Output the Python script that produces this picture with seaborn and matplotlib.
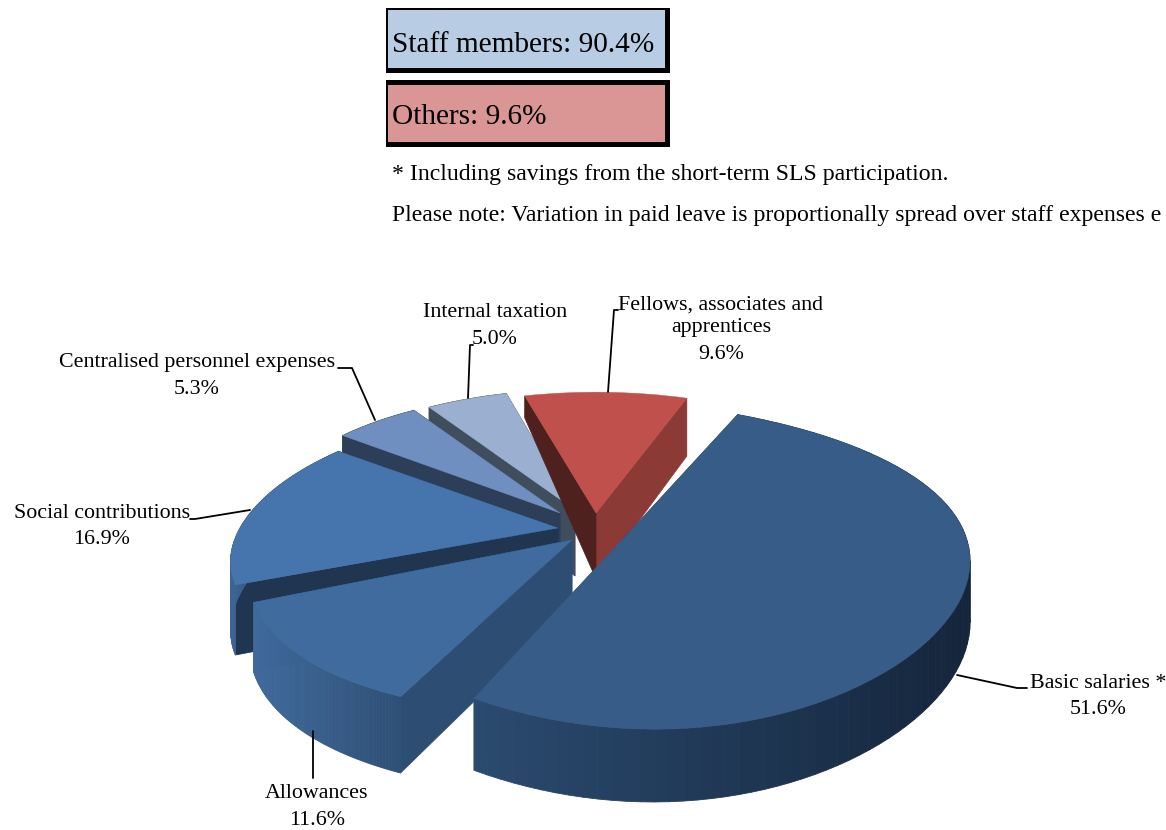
import numpy as np
import matplotlib
matplotlib.use('Agg')
import matplotlib.pyplot as plt
from matplotlib.patches import Rectangle
from matplotlib.transforms import Transform
import seaborn as sns

# ----------------------
# Data
categories = ['Basic salaries *', 'Allowances', 'Social contributions',
              'Centralised personnel expenses', 'Internal taxation',
              'Fellows, associates and\napprentices']
shares = [51.6, 11.6, 16.9, 5.3, 5.0, 9.6]
box_labels = ['Staff members: 90.4%', 'Others: 9.6%']
notes = ['* Including savings from the short-term SLS participation.',
         'Please note: Variation in paid leave is proportionally spread over staff expenses e']

# ----------------------
# Look of each slice: top face, cut wall, rim gradient (left to right)
top_colors = ['#375c88', '#3f6b9e', '#4675ae', '#6f8fc0', '#9bb0d0', '#bf504c']
cut_colors = [('#375c88', '#2a4a6e'), ('#2d4d73', '#2d4d73'), ('#1f3550', '#1f3550'),
              ('#2d3f58', '#2d3f58'), ('#3f4d5c', '#3f4d5c'), ('#8c3a36', '#4e201e')]
rim_colors = [('#2a4a6e', '#14243a'), ('#3f6a9c', '#2f4f75'), ('#3d6494', '#1f3550'),
              ('#2d3f58', '#2d3f58'), ('#3f4d5c', '#3f4d5c'), None]
# the picture has the slices pulled apart by hand, so each gets its own placement
apex = [(622, 540), (572, 540), (558, 528), (560, 513), (575, 510), (596, 513)]
radius = [348, 312, 318, 300, 300, 312]
tilt_k = [0.46, 0.48, 0.43, 0.46, 0.46, 0.445]
x_view = [1e6, 4, 4.2, 6.7, 6.7, 6.7]
y_skew = [0.06, 0, 0, 0, 0, 0]
depth = [62, 66, 66, 66, 66, 66]
paint_order = [4, 3, 2, 5, 1, 0]
# far end of the cut wall of the red slice is shorter in the picture
far_wall = {5: 0.38}

VIEW = 6.7


class Tilt(Transform):
    """Lays a unit pie flat with some perspective, output in pixels."""
    input_dims = 2
    output_dims = 2

    def __init__(self, cx, cy, r, k, xv, skew):
        super().__init__()
        self.cx, self.cy, self.r, self.k, self.xv, self.skew = cx, cy, r, k, xv, skew

    def transform_non_affine(self, values):
        values = np.asarray(values)
        s = VIEW / (VIEW + values[:, 1])
        sx = self.xv / (self.xv + values[:, 1])
        return np.column_stack([self.cx + self.r * values[:, 0] * sx,
                                self.cy - self.r * self.k * values[:, 1] * s
                                + self.r * self.skew * values[:, 0]])


def drop(pts_unit, tilt, thick):
    # same outline, lower by the pie thickness
    pts = tilt.transform_non_affine(pts_unit)
    s = VIEW / (VIEW + pts_unit[:, 1])
    return pts, pts + np.column_stack([np.zeros(len(s)), thick * s])


sns.set_theme(style='white')
plt.rcParams['font.family'] = ['Liberation Serif', 'DejaVu Serif']

fig = plt.figure(figsize=(11.66, 8.30), dpi=100)
ax = fig.add_axes([0, 0, 1, 1])

wedges, _ = ax.pie(shares, startangle=70.6, counterclock=False, radius=1)
ax.set_aspect('auto')
ax.set_xlim(0, 1166)
ax.set_ylim(830, 0)
ax.axis('off')

z = 2
for i in paint_order:
    w = wedges[i]
    tilt = Tilt(apex[i][0], apex[i][1], radius[i], tilt_k[i], x_view[i], y_skew[i])

    # the two cut walls
    for n, (ang, col) in enumerate(zip((w.theta1, w.theta2), cut_colors[i])):
        edge = np.array([[0, 0], [np.cos(np.radians(ang)), np.sin(np.radians(ang))]])
        a, b = drop(edge, tilt, depth[i])
        if n == 1 and i in far_wall:
            b[1, 1] = a[1, 1] + (b[1, 1] - a[1, 1]) * far_wall[i]
        ax.fill(np.r_[a[:, 0], b[::-1, 0]], np.r_[a[:, 1], b[::-1, 1]],
                color=col, lw=0.5, zorder=z)
        z += 1

    # rim, split in strips for the left to right shading
    if rim_colors[i] is not None:
        th = np.radians(np.linspace(w.theta1, w.theta2, 80))
        a, b = drop(np.column_stack([np.cos(th), np.sin(th)]), tilt, depth[i])
        pal = sns.blend_palette(rim_colors[i], 40)
        lo, hi = a[:, 0].min(), a[:, 0].max()
        for k in range(len(th) - 1):
            c = pal[int(39 * (a[k, 0] - lo) / max(hi - lo, 1))]
            ax.fill([a[k, 0], a[k + 1, 0], b[k + 1, 0], b[k, 0]],
                    [a[k, 1], a[k + 1, 1], b[k + 1, 1], b[k, 1]],
                    color=c, lw=0.6, zorder=z)
        z += 1

    # top face is the pie wedge itself
    w.set_transform(tilt + ax.transData)
    w.set_facecolor(top_colors[i])
    w.set_edgecolor(top_colors[i])
    w.set_linewidth(0.3)
    w.set_clip_on(False)
    w.set_zorder(z)
    z += 1

# ----------------------
# Boxes and notes on top
boxes = [((386, 8, 284, 65), (387.5, 10, 277.5, 58), '#b8cce4'),
         ((386, 80, 284, 67), (387.5, 85, 277.5, 57), '#d99694')]
for (outer, inner, col), label, ty in zip(boxes, box_labels, (45, 117.5)):
    ax.add_patch(Rectangle(outer[:2], outer[2], outer[3], color='black', lw=0))
    ax.add_patch(Rectangle(inner[:2], inner[2], inner[3], color=col, lw=0))
    ax.text(392, ty, label, fontsize=21.1, color='black', va='center', ha='left')

for note, ty in zip(notes, (174.5, 215.5)):
    ax.text(392, ty, note, fontsize=17.1, color='black', va='center', ha='left')

# ----------------------
# Labels with leader lines
label_pos = [(1098, 683), (317, 793), (102, 513), (197, 362), (495, 312), (721, 316)]
pct_pos = [(1098, 709), (317, 820), (102, 539), (197, 389), (495, 339), (721, 354)]
leaders = [([957, 1017, 1027], [675, 688, 688]),
           ([313, 313], [731, 778]),
           ([250, 195, 190], [510, 519, 519]),
           ([375, 352, 338], [420, 368, 368]),
           ([468, 470, 473], [398, 345, 345]),
           ([608, 614, 618], [392, 310, 310])]
for name, val, lp, pp, (lx, ly) in zip(categories, shares, label_pos, pct_pos, leaders):
    ax.plot(lx, ly, color='black', lw=1.3, zorder=50)
    ax.text(lp[0], lp[1], name, fontsize=15.8, ha='center', va='center', color='black',
            zorder=51, linespacing=1.25)
    ax.text(pp[0], pp[1], f'{val:.1f}%', fontsize=15.8, ha='center', va='center',
            color='black', zorder=51)

fig.savefig('out.png', dpi=100, facecolor='white')
plt.close(fig)
